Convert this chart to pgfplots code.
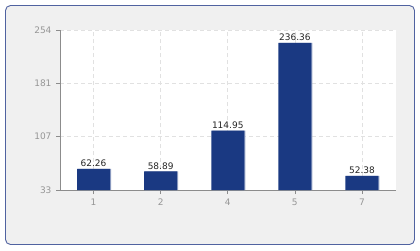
\documentclass[border=0pt]{standalone}
\usepackage{pgfplots}
\pgfplotsset{compat=1.18}
\usepackage{fontspec}
\setmainfont{DejaVu Sans}
\definecolor{barblue}{RGB}{26,57,130}
\definecolor{framebg}{RGB}{240,240,240}
\definecolor{frameline}{RGB}{80,98,160}
\definecolor{tickgray}{RGB}{150,150,150}
\definecolor{axisgray}{RGB}{140,140,140}
\definecolor{gridgray}{RGB}{225,225,225}
\begin{document}
\begin{tikzpicture}[x=1pt,y=1pt]
\fill[white] (0,0) rectangle (420,250);
\draw[frameline, fill=framebg, rounded corners=5pt, line width=0.9pt] (5.5,5.5) rectangle (414.5,244.5);
\begin{axis}[
  at={(60pt,60pt)}, anchor=south west,
  scale only axis, width=335.5pt, height=160pt,
  xmin=-0.5, xmax=4.5, ymin=33, ymax=254,
  xtick={0,1,2,3,4}, xticklabels={1,2,4,5,7},
  ytick={33,107,181,254},
  axis x line*=bottom, axis y line*=left,
  axis line style={draw=axisgray, line width=0.8pt},
  every outer x axis line/.append style={-},
  every outer y axis line/.append style={-},
  tick style={draw=axisgray, line width=0.6pt},
  major tick length=4pt,
  tick align=outside,
  xtick pos=bottom, ytick pos=left,
  ticklabel style={font=\fontsize{9}{10}\selectfont, text=tickgray},
  /pgf/number format/assume math mode=true,
  xticklabel style={yshift=-1pt},
  yticklabel style={xshift=-1pt},
  grid=major,
  major grid style={draw=gridgray, dash pattern=on 4pt off 3pt, line width=0.6pt},
  axis background/.style={fill=white},
  ybar, bar width=33pt,
  clip=false,
]
\addplot[fill=barblue!45, draw=none, bar shift=1pt, forget plot] coordinates {(0,62.26) (1,58.89) (2,114.95) (3,236.36) (4,52.38)};
\addplot[fill=barblue, draw=none, bar shift=0pt,
  nodes near coords={\pgfmathprintnumber[fixed,precision=2,fixed zerofill]{\pgfplotspointmeta}},
  every node near coord/.append style={font=\fontsize{9}{10}\selectfont, text=black!85, yshift=-1.5pt}]
  coordinates {(0,62.26) (1,58.89) (2,114.95) (3,236.36) (4,52.38)};
\end{axis}
\end{tikzpicture}
\end{document}
